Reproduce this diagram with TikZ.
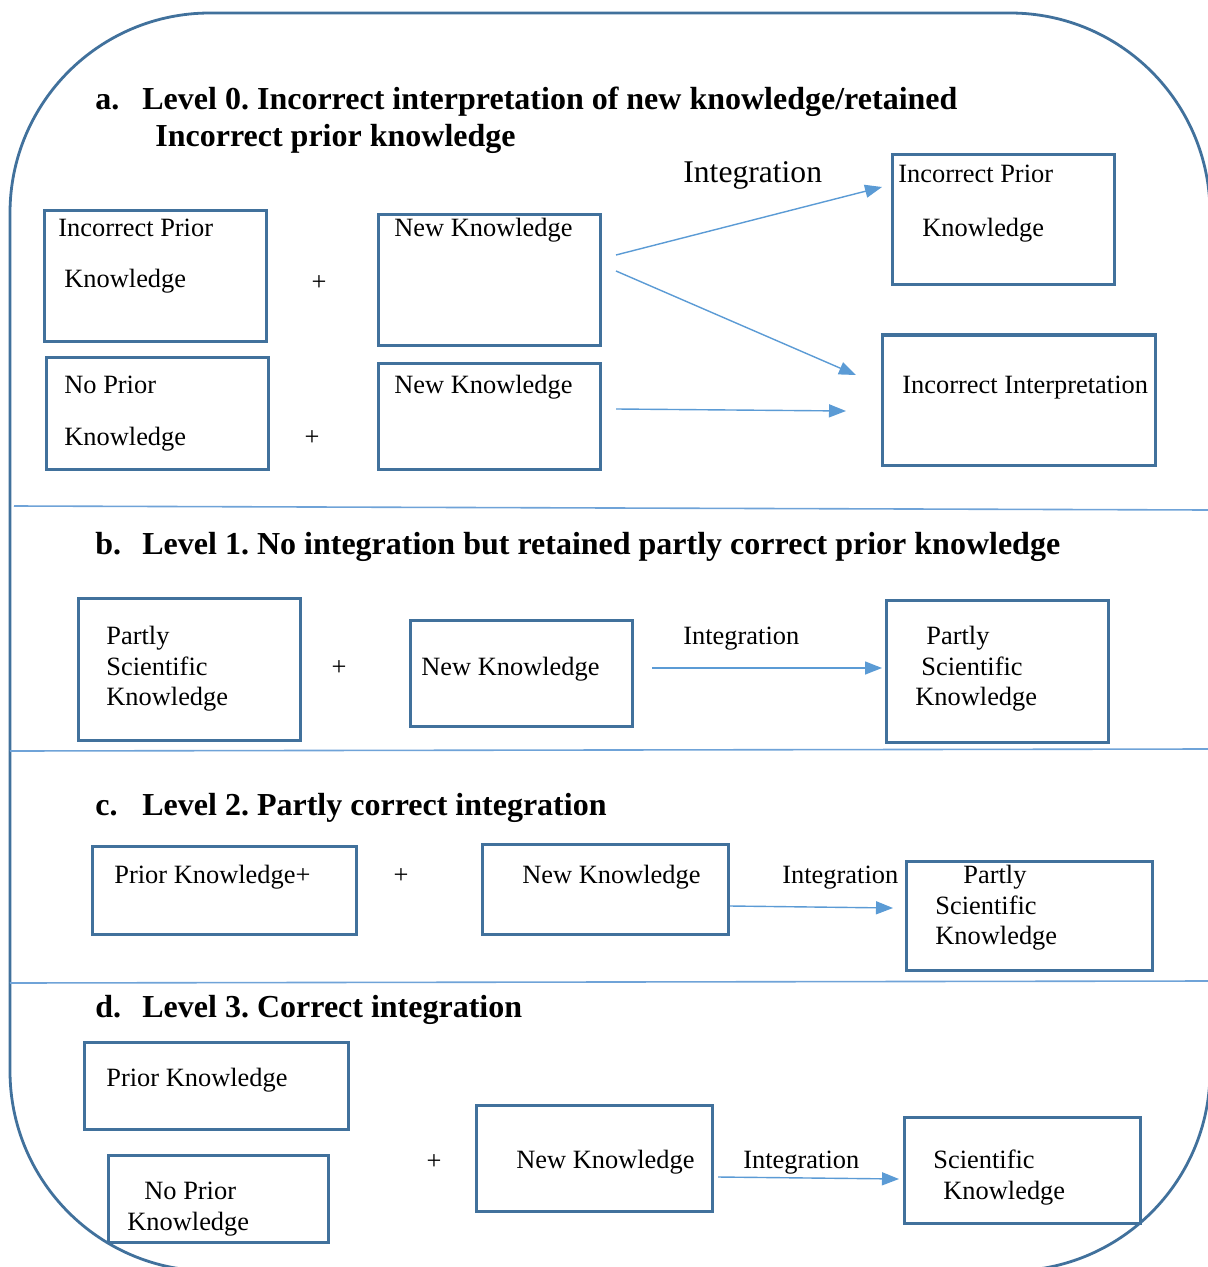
\documentclass[tikz,border=0pt]{standalone}
\usepackage{fontspec}
\setmainfont{Liberation Serif}
\usetikzlibrary{arrows.meta}
\definecolor{boxblue}{HTML}{41719C}
\definecolor{arrowblue}{HTML}{5B9BD5}
\definecolor{sepblue}{HTML}{6FA3D8}
\frenchspacing
\tikzset{
 kb/.style={draw=boxblue, line width=1.5pt, rectangle, inner sep=0pt},
 txt/.style={anchor=base west, inner sep=0pt, font=\fontsize{13.2}{15}\selectfont},
 bigtxt/.style={anchor=base west, inner sep=0pt, font=\fontsize{15.8}{18}\selectfont},
 hd/.style={anchor=base west, inner sep=0pt, font=\fontsize{16}{19}\selectfont\bfseries},
 plussign/.style={inner sep=0pt, font=\fontsize{13.2}{15}\selectfont},
 arr/.style={draw=arrowblue, line width=0.7pt, -{Triangle[length=8.5pt,width=6.5pt]}},
 sepline/.style={draw=sepblue, line width=0.8pt},
 outerframe/.style={draw=boxblue, line width=1.4pt, rounded corners=100pt},
}
\newcommand{\kbox}[5]{%
 \pgfmathsetmacro{\kbw}{(#4-#2)*0.5}%
 \pgfmathsetmacro{\kbh}{(#5-#3)*0.5}%
 \node[kb, minimum width=\kbw pt, minimum height=\kbh pt] (#1) at ({(#2+#4)/2},{(#3+#5)/2}) {};}
\begin{document}
\begin{tikzpicture}[x=0.5pt,y=-0.5pt]
\useasboundingbox (0,0) rectangle (1208,1267);
\clip (0,0) rectangle (1208,1267);
\fill[white] (0,0) rectangle (1208,1267);
% outer frame
\draw[outerframe] (10,13) rectangle (1210,1271);
% separators
\draw[sepline] (14,506) -- (1208,510);
\draw[sepline] (10,751) -- (1208,749);
\draw[sepline] (10,983) -- (1208,981);

% ---------- a ----------
\node[hd] (ha) at (95,110) {a.};
\node[hd] (hat) at (142,110) {Level 0. Incorrect interpretation of new knowledge/retained};
\node[hd] (hat2) at (155,147) {Incorrect prior knowledge};
\node[bigtxt] (inta) at (683,183) {Integration};
\kbox{a1}{44}{211}{266}{341}
\node[txt] (a1t1) at (58,237) {Incorrect Prior};
\node[txt] (a1t2) at (64,288) {Knowledge};
\node[plussign] (pa1) at (319,283) {+};
\kbox{a2}{378}{215}{600}{345}
\node[txt] (a2t) at (394,237) {New Knowledge};
\kbox{a3}{46}{357}{268}{469}
\node[txt] (a3t1) at (64,393) {No Prior};
\node[txt] (a3t2) at (64,445) {Knowledge};
\node[plussign] (pa2) at (312,438) {+};
\kbox{a4}{378}{363}{600}{469}
\node[txt] (a4t) at (394,393) {New Knowledge};
\kbox{a5}{892}{155}{1114}{285}
\node[txt] (a5t1) at (898,183) {Incorrect Prior};
\node[txt] (a5t2) at (922,237) {Knowledge};
\kbox{a6}{882}{335}{1155}{465}
\node[txt] (a6t) at (902,393) {Incorrect Interpretation};
\coordinate (s1) at (616,255); \coordinate (e1) at (882,187);
\coordinate (s2) at (616,271); \coordinate (e2) at (856,375);
\coordinate (s3) at (616,409); \coordinate (e3) at (846,411);
\draw[arr] (s1) -- (e1);
\draw[arr] (s2) -- (e2);
\draw[arr] (s3) -- (e3);

% ---------- b ----------
\node[hd] (hb) at (95,554) {b.};
\node[hd] (hbt) at (142,554) {Level 1. No integration but retained partly correct prior knowledge};
\kbox{b1}{78}{598}{300}{740}
\node[txt] (b1t1) at (106,644) {Partly};
\node[txt] (b1t2) at (106,675) {Scientific};
\node[txt] (b1t3) at (106,705) {Knowledge};
\node[plussign] (pb) at (339,668) {+};
\kbox{b2}{410}{620}{632}{726}
\node[txt] (b2t) at (421,675) {New Knowledge};
\node[txt] (intb) at (683,644) {Integration};
\kbox{b3}{886}{600}{1108}{742}
\node[txt] (b3t1) at (926,644) {Partly};
\node[txt] (b3t2) at (921,675) {Scientific};
\node[txt] (b3t3) at (915,705) {Knowledge};
\coordinate (s4) at (652,668); \coordinate (e4) at (882,668);
\draw[arr] (s4) -- (e4);

% ---------- c ----------
\node[hd] (hc) at (95,815) {c.};
\node[hd] (hct) at (142,815) {Level 2. Partly correct integration};
\kbox{c1}{92}{846}{356}{934}
\node[txt] (c1t) at (114,883) {Prior Knowledge+};
\node[plussign] (pc) at (401,876) {+};
\kbox{c2}{482}{844}{728}{934}
\node[txt] (c2t) at (522,883) {New Knowledge};
\node[txt] (intc) at (782,883) {Integration};
\kbox{c3}{906}{861}{1152}{970}
\node[txt] (c3t1) at (963,883) {Partly};
\node[txt] (c3t2) at (935,914) {Scientific};
\node[txt] (c3t3) at (935,944) {Knowledge};
\coordinate (s5) at (730,906); \coordinate (e5) at (893,908);
\draw[arr] (s5) -- (e5);

% ---------- d ----------
\node[hd] (hd) at (95,1017) {d.};
\node[hd] (hdt) at (142,1017) {Level 3. Correct integration};
\kbox{d1}{84}{1042}{348}{1129}
\node[txt] (d1t) at (106,1086) {Prior Knowledge};
\kbox{d2}{108}{1155}{328}{1242}
\node[txt] (d2t1) at (144,1199) {No Prior};
\node[txt] (d2t2) at (127,1230) {Knowledge};
\node[plussign] (pd) at (434,1162) {+};
\kbox{d3}{476}{1105}{712}{1211}
\node[txt] (d3t) at (516,1168) {New Knowledge};
\node[txt] (intd) at (743,1168) {Integration};
\kbox{d4}{904}{1117}{1140}{1223}
\node[txt] (d4t1) at (933,1168) {Scientific};
\node[txt] (d4t2) at (943,1199) {Knowledge};
\coordinate (s6) at (718,1177); \coordinate (e6) at (899,1179);
\draw[arr] (s6) -- (e6);
\end{tikzpicture}
\end{document}
